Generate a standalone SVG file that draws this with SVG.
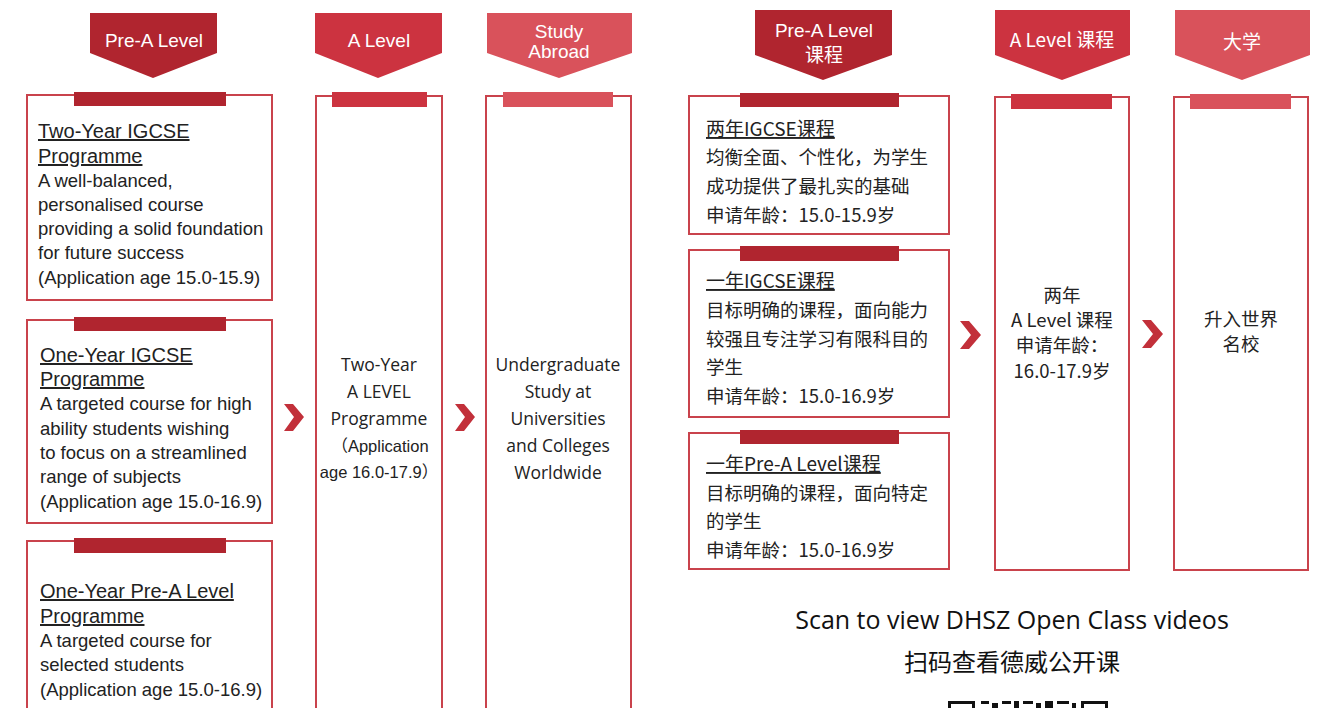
<svg xmlns="http://www.w3.org/2000/svg" width="1325" height="708" viewBox="0 0 1325 708">
<defs>
<style>
.bg{fill:#ffffff}
.box{fill:#ffffff;stroke:#c9434c;stroke-width:2}
.c1{fill:#b0252f}
.c2{fill:#cc3340}
.c3{fill:#d9525b}
.hd{font-family:"Liberation Sans",Arial,sans-serif;font-size:19px;fill:#ffffff;text-anchor:middle}
.hdz{font-family:"Noto Sans CJK SC","Liberation Sans",sans-serif;font-size:19px;fill:#ffffff;text-anchor:middle}
.en{font-family:"Liberation Sans",Arial,sans-serif;font-size:18.5px;fill:#222222}
.ent{font-family:"Liberation Sans",Arial,sans-serif;font-size:20px;fill:#222222;text-decoration:underline}
.mid{font-family:"Open Sans","Noto Sans",sans-serif;font-size:17.5px;fill:#222222;text-anchor:middle}
.mida{font-family:"Liberation Sans",Arial,"Noto Sans CJK SC",sans-serif;font-size:16.5px;fill:#222222;text-anchor:middle}
.zh{font-family:"Noto Sans CJK SC",sans-serif;font-size:18.5px;fill:#222222}
.zht{font-family:"Noto Sans CJK SC",sans-serif;font-size:19px;fill:#222222;text-decoration:underline}
.zhm{font-family:"Noto Sans CJK SC",sans-serif;font-size:18.5px;fill:#222222;text-anchor:middle}
.bot{font-family:"Open Sans","Noto Sans CJK SC",sans-serif;font-size:25px;fill:#111111;text-anchor:middle}
.botz{font-family:"Noto Sans CJK SC",sans-serif;font-size:24px;fill:#111111;text-anchor:middle}
.chev{fill:#c2303a}
.qr{fill:#111111}
</style>
</defs>
<rect class="bg" x="0" y="0" width="1325" height="708"/>

<!-- Headers left -->
<g id="hdr-prea">
<polygon class="c1" points="90,13 217,13 217,53 153,78 90,53"/>
<text class="hd" x="154" y="47">Pre-A Level</text>
</g>
<g id="hdr-alevel">
<polygon class="c2" points="315,13 442,13 442,53 378,78 315,53"/>
<text class="hd" x="379" y="47">A Level</text>
</g>
<g id="hdr-abroad">
<polygon class="c3" points="487,13 632,13 632,53 559,78 487,53"/>
<text class="hd" x="559" y="38">Study</text>
<text class="hd" x="559" y="58">Abroad</text>
</g>

<!-- Left boxes -->
<g id="box-2y-igcse">
<rect class="box" x="27" y="95" width="245" height="205"/>
<rect class="c1" x="74" y="92" width="152" height="14"/>
<text class="ent" x="38" y="138">Two-Year IGCSE</text>
<text class="ent" x="38" y="163">Programme</text>
<text class="en" x="38" y="187">A well-balanced,</text>
<text class="en" x="38" y="211">personalised course</text>
<text class="en" x="38" y="235">providing a solid foundation</text>
<text class="en" x="38" y="259">for future success</text>
<text class="en" x="38" y="284">(Application age 15.0-15.9)</text>
</g>
<g id="box-1y-igcse">
<rect class="box" x="27" y="320" width="245" height="203"/>
<rect class="c1" x="74" y="317" width="152" height="14"/>
<text class="ent" x="40" y="362">One-Year IGCSE</text>
<text class="ent" x="40" y="386">Programme</text>
<text class="en" x="40" y="410">A targeted course for high</text>
<text class="en" x="40" y="435">ability students wishing</text>
<text class="en" x="40" y="459">to focus on a streamlined</text>
<text class="en" x="40" y="483">range of subjects</text>
<text class="en" x="40" y="508">(Application age 15.0-16.9)</text>
</g>
<g id="box-1y-prea">
<rect class="box" x="27" y="541" width="245" height="180"/>
<rect class="c1" x="74" y="538" width="152" height="15"/>
<text class="ent" x="40" y="598">One-Year Pre-A Level</text>
<text class="ent" x="40" y="623">Programme</text>
<text class="en" x="40" y="647">A targeted course for</text>
<text class="en" x="40" y="671">selected students</text>
<text class="en" x="40" y="696">(Application age 15.0-16.9)</text>
</g>

<!-- Middle boxes -->
<g id="box-alevel">
<rect class="box" x="316" y="96" width="126" height="630"/>
<rect class="c2" x="332" y="92" width="95" height="15"/>
<text class="mid" x="379" y="371">Two-Year</text>
<text class="mid" x="379" y="398">A LEVEL</text>
<text class="mid" x="379" y="425">Programme</text>
<text class="mida" x="380" y="452">（Application</text>
<text class="mida" x="379" y="478">age 16.0-17.9）</text>
</g>
<g id="box-abroad">
<rect class="box" x="486" y="96" width="145" height="630"/>
<rect class="c3" x="503" y="92" width="110" height="15"/>
<text class="mid" x="558" y="371">Undergraduate</text>
<text class="mid" x="558" y="398">Study at</text>
<text class="mid" x="558" y="425">Universities</text>
<text class="mid" x="558" y="452">and Colleges</text>
<text class="mid" x="558" y="479">Worldwide</text>
</g>

<!-- Right headers -->
<g id="hdr-prea-zh">
<polygon class="c1" points="755,10 892,10 892,55 823,80 755,55"/>
<text class="hd" x="824" y="37">Pre-A Level</text>
<text class="hdz" x="824" y="62">课程</text>
</g>
<g id="hdr-alevel-zh">
<polygon class="c2" points="995,10 1130,10 1130,55 1062,80 995,55"/>
<text class="hdz" x="1062" y="47">A Level 课程</text>
</g>
<g id="hdr-uni-zh">
<polygon class="c3" points="1175,10 1310,10 1310,55 1242,80 1175,55"/>
<text class="hdz" x="1242" y="49">大学</text>
</g>

<!-- Right boxes -->
<g id="box-2y-igcse-zh">
<rect class="box" x="689" y="96" width="260" height="138"/>
<rect class="c1" x="740" y="93" width="159" height="14"/>
<text class="zht" x="706" y="136">两年IGCSE课程</text>
<text class="zh" x="706" y="164">均衡全面、个性化，为学生</text>
<text class="zh" x="706" y="193">成功提供了最扎实的基础</text>
<text class="zh" x="706" y="222">申请年龄：15.0-15.9岁</text>
</g>
<g id="box-1y-igcse-zh">
<rect class="box" x="689" y="250" width="260" height="167"/>
<rect class="c1" x="740" y="246" width="159" height="15"/>
<text class="zht" x="706" y="288">一年IGCSE课程</text>
<text class="zh" x="706" y="317">目标明确的课程，面向能力</text>
<text class="zh" x="706" y="346">较强且专注学习有限科目的</text>
<text class="zh" x="706" y="374">学生</text>
<text class="zh" x="706" y="403">申请年龄：15.0-16.9岁</text>
</g>
<g id="box-1y-prea-zh">
<rect class="box" x="689" y="433" width="260" height="136"/>
<rect class="c1" x="740" y="430" width="159" height="14"/>
<text class="zht" x="706" y="471">一年Pre-A Level课程</text>
<text class="zh" x="706" y="500">目标明确的课程，面向特定</text>
<text class="zh" x="706" y="528">的学生</text>
<text class="zh" x="706" y="557">申请年龄：15.0-16.9岁</text>
</g>
<g id="box-alevel-zh">
<rect class="box" x="995" y="97" width="134" height="473"/>
<rect class="c2" x="1011" y="94" width="101" height="15"/>
<text class="zhm" x="1062" y="302">两年</text>
<text class="zhm" x="1062" y="327">A Level 课程</text>
<text class="zhm" x="1062" y="352">申请年龄：</text>
<text class="zhm" x="1062" y="378">16.0-17.9岁</text>
</g>
<g id="box-uni-zh">
<rect class="box" x="1174" y="97" width="134" height="473"/>
<rect class="c3" x="1190" y="94" width="101" height="15"/>
<text class="zhm" x="1241" y="326">升入世界</text>
<text class="zhm" x="1241" y="351">名校</text>
</g>

<!-- Connectors (chevrons) -->
<g id="connectors">
<polygon class="chev" points="284,404 293,404 304,417 293,431 284,431 294,417"/>
<polygon class="chev" points="455,404 464,404 475,417 464,431 455,431 465,417"/>
<polygon class="chev" points="960,321 969,321 981,335 969,349 960,349 971,335"/>
<polygon class="chev" points="1142,320 1151,320 1163,334 1151,348 1142,348 1153,334"/>
</g>

<!-- Bottom -->
<g id="scan-caption">
<text class="bot" x="1012" y="629">Scan to view DHSZ Open Class videos</text>
<text class="botz" x="1012" y="671">扫码查看德威公开课</text>
</g>
<g id="qr-code">
<rect class="qr" x="948" y="701" width="27" height="3"/>
<rect class="qr" x="948" y="701" width="3" height="7"/>
<rect class="qr" x="972" y="701" width="3" height="7"/>
<rect class="qr" x="981" y="701" width="8" height="3"/>
<rect class="qr" x="992" y="703" width="6" height="5"/>
<rect class="qr" x="1002" y="701" width="9" height="3"/>
<rect class="qr" x="1014" y="701" width="5" height="7"/>
<rect class="qr" x="1023" y="701" width="10" height="3"/>
<rect class="qr" x="1036" y="703" width="5" height="5"/>
<rect class="qr" x="1045" y="701" width="8" height="7"/>
<rect class="qr" x="1057" y="701" width="12" height="3"/>
<rect class="qr" x="1072" y="703" width="4" height="5"/>
<rect class="qr" x="1081" y="701" width="27" height="3"/>
<rect class="qr" x="1081" y="701" width="3" height="7"/>
<rect class="qr" x="1105" y="701" width="3" height="7"/>
</g>
</svg>
